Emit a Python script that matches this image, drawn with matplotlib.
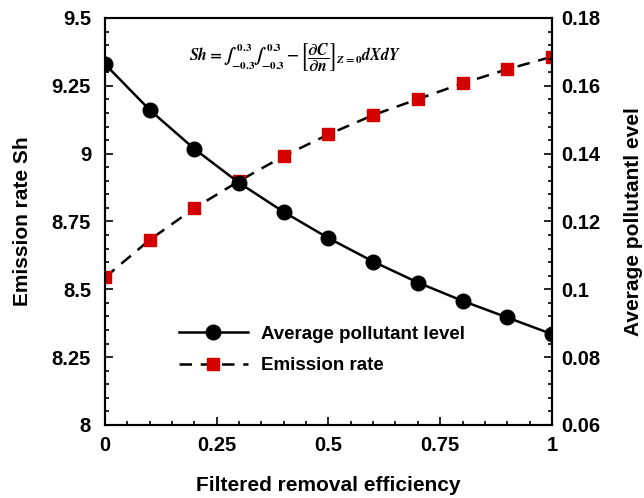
import matplotlib
matplotlib.use("Agg")
import matplotlib.pyplot as plt
from matplotlib.ticker import MultipleLocator, FuncFormatter

plt.rcParams['font.family'] = ['Liberation Sans', 'DejaVu Sans']
plt.rcParams['font.weight'] = 'bold'
plt.rcParams['mathtext.fontset'] = 'stix'

efficiency = [0.0, 0.1, 0.2, 0.3, 0.4, 0.5, 0.6, 0.7, 0.8, 0.9, 1.0]
pollutant_level = [0.1664, 0.1529, 0.1414, 0.1314, 0.1228, 0.1151, 0.1082, 0.1020, 0.0966, 0.0917, 0.0868]
emission_rate = [8.544, 8.682, 8.799, 8.899, 8.991, 9.071, 9.142, 9.201, 9.259, 9.311, 9.357]

left_ticks = [8, 8.25, 8.5, 8.75, 9, 9.25, 9.5]
right_ticks = [0.06, 0.08, 0.10, 0.12, 0.14, 0.16, 0.18]
x_ticks = [0, 0.25, 0.5, 0.75, 1]

fig = plt.figure(figsize=(6.44, 4.98), dpi=100)
ax = fig.add_axes([0.163, 0.1466, 0.694, 0.8173])
ax2 = ax.twinx()

l2, = ax.plot(efficiency, emission_rate, '--', color='black', lw=1.8, dashes=(5, 3.5),
              marker='s', ms=8.5, mfc='#d40000', mec='#d40000', label='Emission rate')
l1, = ax2.plot(efficiency, pollutant_level, '-', color='black', lw=1.8,
               marker='o', ms=10.5, mfc='black', mec='black', label='Average pollutant level')

ax.set_xlim(0, 1)
ax.set_ylim(8, 9.5)
ax2.set_ylim(0.06, 0.18)

fmt = FuncFormatter(lambda v, p: ('%g' % round(v, 4)))
ax.set_xticks(x_ticks)
ax.set_yticks(left_ticks)
ax2.set_yticks(right_ticks)
ax.xaxis.set_major_formatter(fmt)
ax.yaxis.set_major_formatter(fmt)
ax2.yaxis.set_major_formatter(fmt)
ax.xaxis.set_minor_locator(MultipleLocator(0.05))
ax.yaxis.set_minor_locator(MultipleLocator(0.05))
ax2.yaxis.set_minor_locator(MultipleLocator(0.004))

for a in (ax, ax2):
    a.tick_params(which='both', direction='in', width=1.2, labelsize=14.5)
    a.tick_params(which='major', length=6)
    a.tick_params(which='minor', length=3)
    for s in a.spines.values():
        s.set_linewidth(1.5)
ax.tick_params(axis='x', pad=8)
ax.tick_params(axis='y', pad=10, right=False)
ax2.tick_params(axis='y', pad=7)

ax.set_xlabel('Filtered removal efficiency', fontsize=15, fontweight='bold', labelpad=15)
ax.set_ylabel('Emission rate Sh', fontsize=15, fontweight='bold', labelpad=14)
ax2.set_ylabel('Average pollutantl evel', fontsize=15, fontweight='bold', labelpad=17)

ax.text(0.425, 0.905,
        r'$Sh=\int_{-0.3}^{0.3}\int_{-0.3}^{0.3}-\left[\dfrac{\partial C}{\partial n}\right]_{Z=0}dXdY$',
        transform=ax.transAxes, ha='center', va='center', fontsize=11.5)

leg = ax2.legend(handles=[l1, l2], loc='upper left', bbox_to_anchor=(0.148, 0.262),
                 frameon=False, fontsize=13.5, handlelength=3.7, labelspacing=0.76,
                 handletextpad=0.7, borderaxespad=0)
for t in leg.get_texts():
    t.set_fontweight('bold')

fig.savefig('out.png', dpi=100)
